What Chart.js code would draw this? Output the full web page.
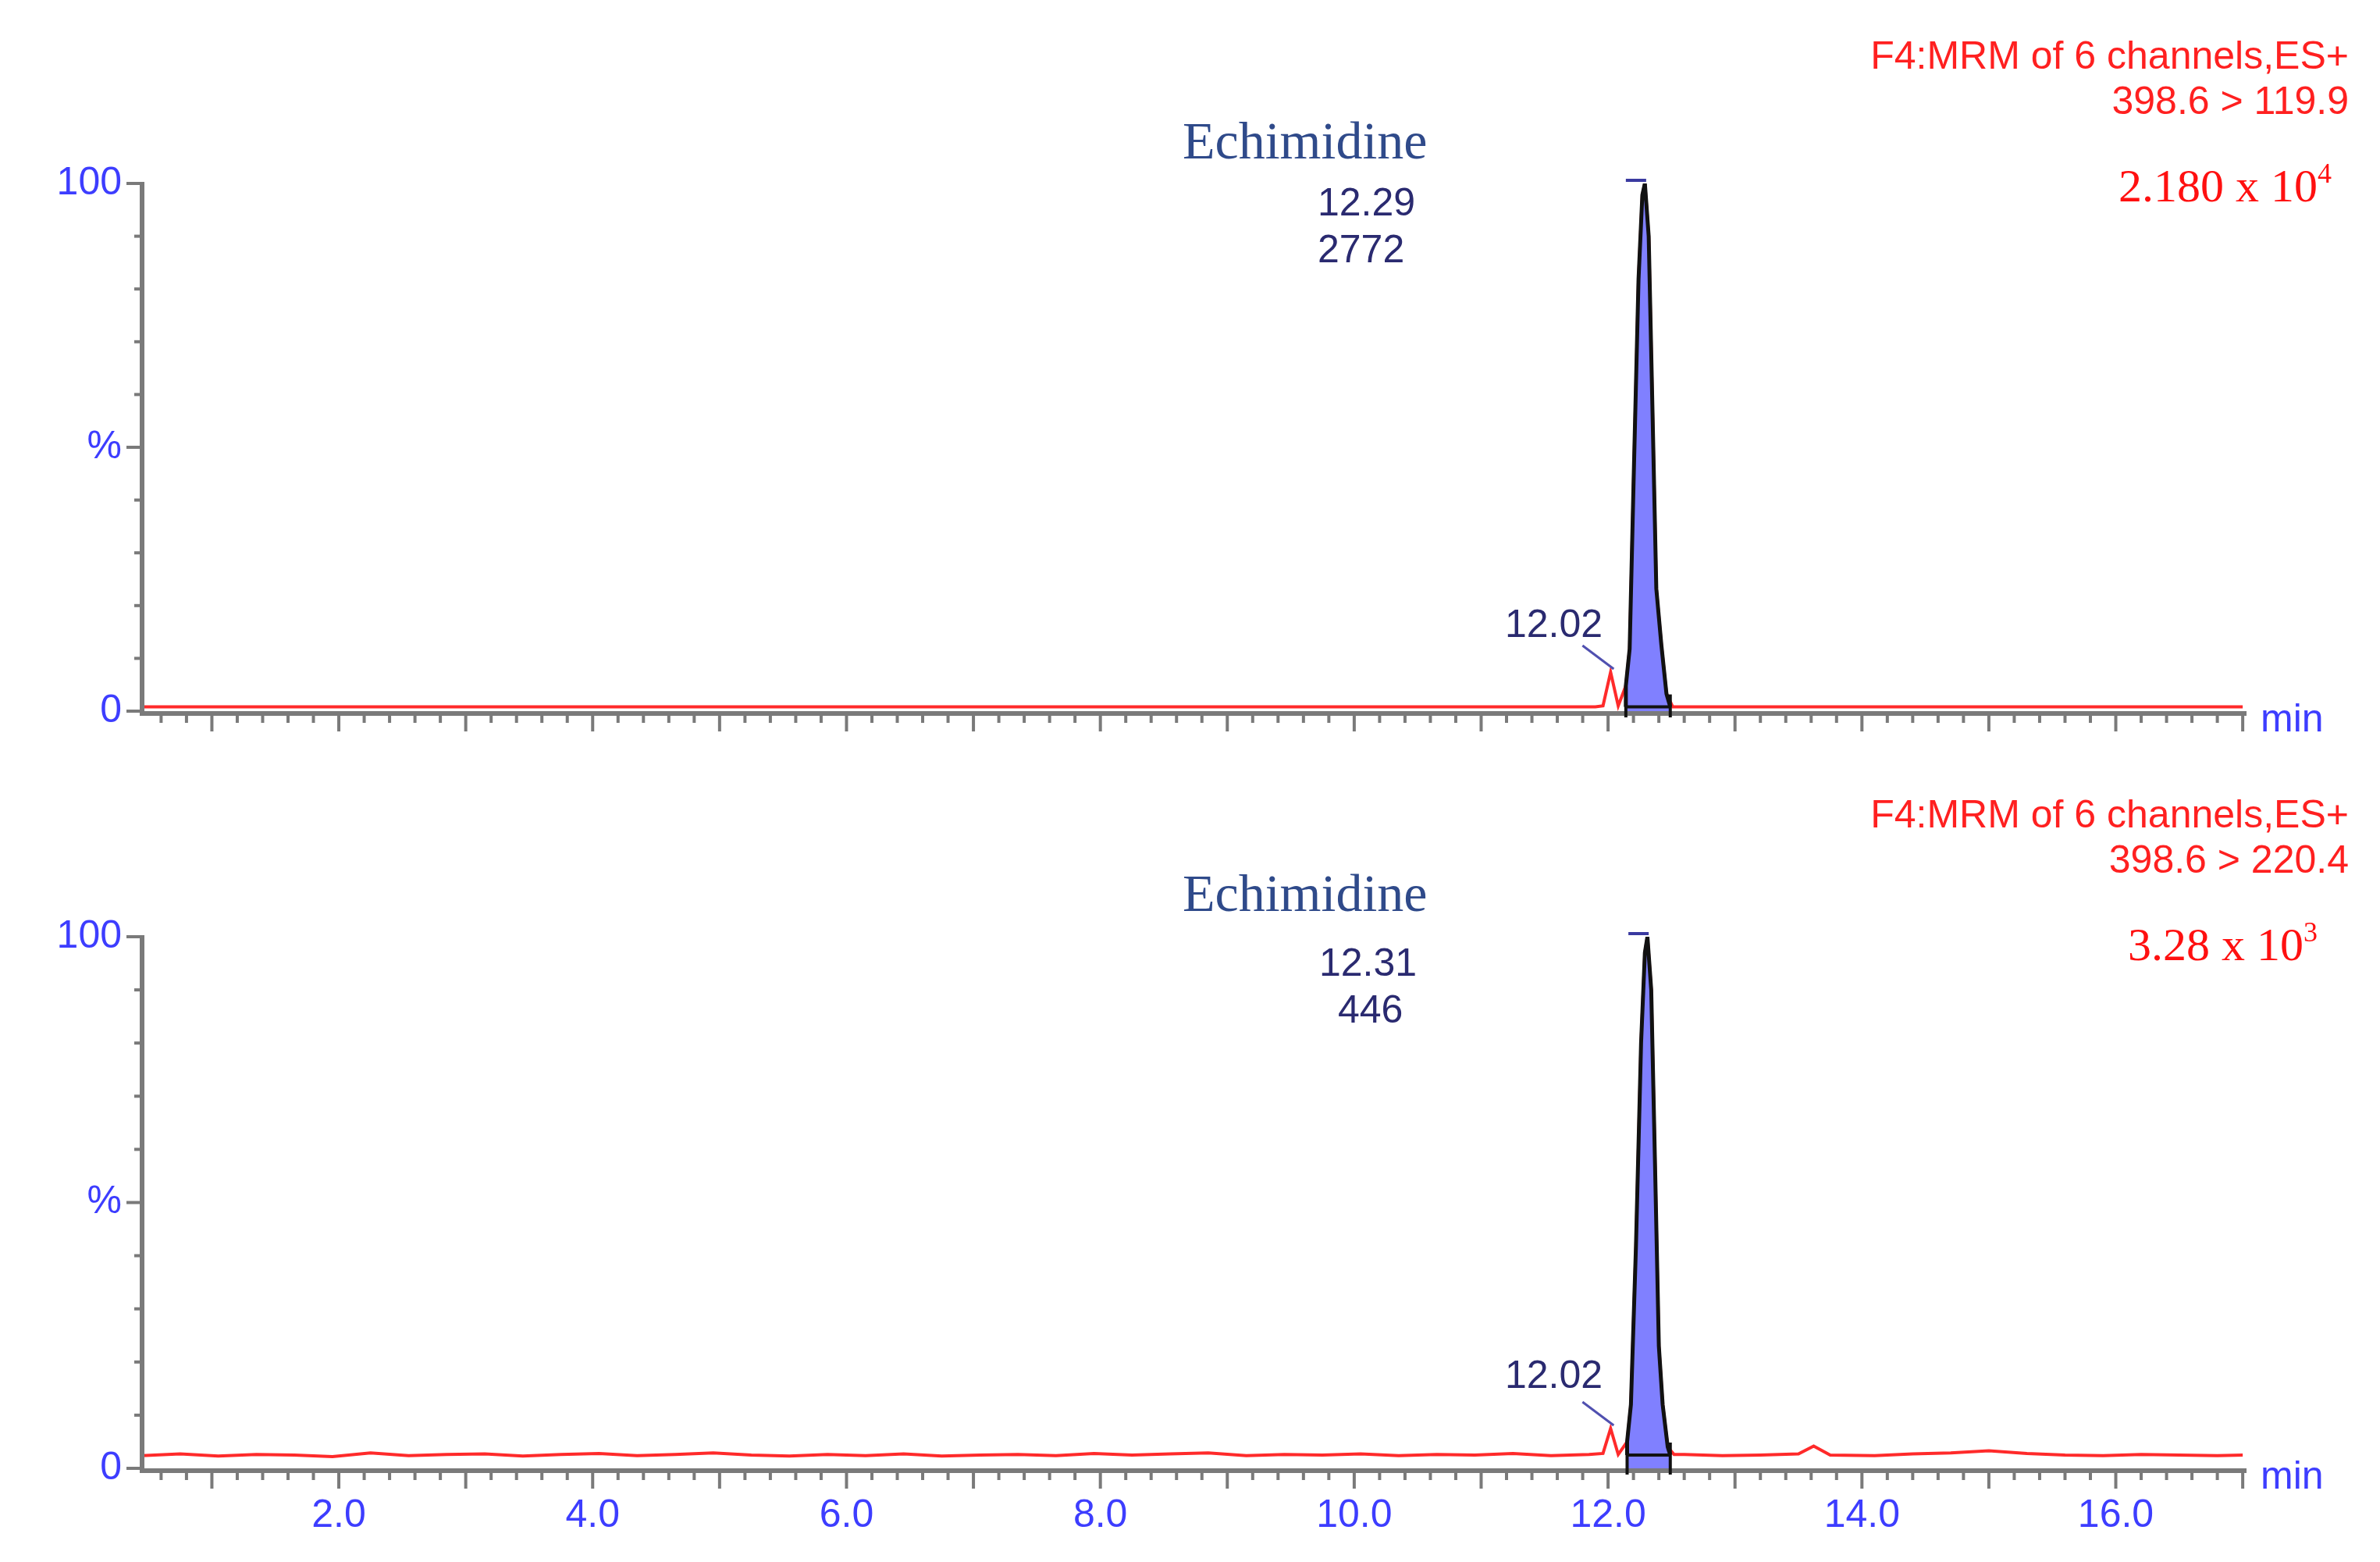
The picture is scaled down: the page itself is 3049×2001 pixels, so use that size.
<!DOCTYPE html>
<html><head><meta charset="utf-8">
<script src="https://cdn.jsdelivr.net/npm/chart.js@4"></script>
<style>
html,body{margin:0;padding:0;background:#fff;width:3049px;height:2001px;overflow:hidden;position:relative}
canvas{position:absolute;left:0}
.t{position:absolute;white-space:nowrap;line-height:1}
.hdr{font-family:"Liberation Sans",Arial,sans-serif;font-size:50px;color:#ff2020;text-align:right;right:40px}
.sci{font-family:"Liberation Serif","Times New Roman",serif;font-size:60px;color:#ff1010}
.sci sup{font-size:36px;vertical-align:top;position:relative;top:-4px}
.name{font-family:"Liberation Serif","Times New Roman",serif;font-size:68px;color:#2f4a8a}
.pk{font-family:"Liberation Sans",Arial,sans-serif;font-size:50px;color:#2a2a70;text-align:center}
</style></head><body>
<canvas id="c1" width="3049" height="1000" style="top:0;width:3049px;height:1000px"></canvas>
<canvas id="c2" width="3049" height="1001" style="top:1000px;width:3049px;height:1001px"></canvas>

<div class="t hdr" style="top:46px">F4:MRM of 6 channels,ES+</div>
<div class="t hdr" style="top:104px">398.6 &gt; 119.9</div>
<div class="t sci" style="top:208px;right:62px">2.180 x 10<sup>4</sup></div>
<div class="t name" style="top:146px;left:1515px">Echimidine</div>
<div class="t pk" style="top:234px;left:1688px">12.29</div>
<div class="t pk" style="top:294px;left:1688px">2772</div>
<div class="t pk" style="top:774px;left:1928px">12.02</div>

<div class="t hdr" style="top:1018px">F4:MRM of 6 channels,ES+</div>
<div class="t hdr" style="top:1076px">398.6 &gt; 220.4</div>
<div class="t sci" style="top:1180px;right:80px">3.28 x 10<sup>3</sup></div>
<div class="t name" style="top:1110px;left:1515px">Echimidine</div>
<div class="t pk" style="top:1208px;left:1690px">12.31</div>
<div class="t pk" style="top:1268px;left:1714px">446</div>
<div class="t pk" style="top:1736px;left:1928px">12.02</div>

<script>
// ---------- data ----------
const xMin = 0.45, xMax = 17.03;
const xTickLabels = ["2.0","4.0","6.0","8.0","10.0","12.0","14.0","16.0"];
const yTickLabels = ["0","%","100"];

// Top channel 398.6 > 119.9
const topTime = [0.45,2.0,4.0,6.0,8.0,10.0,11.0,11.9,11.96,12.02,12.08,12.14,12.17,12.20,12.24,12.27,12.29,12.32,12.35,12.38,12.42,12.46,12.51,13.0,14.0,15.0,16.0,17.0];
const topValue = [0.8,0.8,0.8,0.8,0.8,0.8,0.8,0.8,1.0,7.4,1.0,4.8,11.8,42.4,81.9,97.8,100,90,56.8,23.2,12.5,3.3,0.8,0.8,0.8,0.8,0.8,0.8];
const topPeakTime = [12.14,12.14,12.17,12.20,12.24,12.27,12.29,12.32,12.35,12.38,12.42,12.46,12.49];
const topPeakValue = [0.8,4.8,11.8,42.4,81.9,97.8,100,90,56.8,23.2,12.5,3.3,0.8];

// Bottom channel 398.6 > 220.4
const botTime = [0.45,0.75,1.05,1.35,1.65,1.95,2.25,2.55,2.85,3.15,3.45,3.75,4.05,4.35,4.65,4.95,5.25,5.55,5.85,6.15,6.45,6.75,7.05,7.35,7.65,7.95,8.25,8.55,8.85,9.15,9.45,9.75,10.05,10.35,10.65,10.95,11.25,11.55,11.85,
  11.96,12.02,12.08,12.15,12.18,12.22,12.26,12.29,12.31,12.34,12.37,12.40,12.43,12.47,12.52,
  12.6,12.9,13.2,13.5,13.62,13.75,14.1,14.4,14.7,15.0,15.3,15.6,15.9,16.2,16.5,16.8,17.0];
const botValue = [2.4,2.7,2.3,2.6,2.5,2.2,2.9,2.4,2.6,2.7,2.3,2.6,2.8,2.4,2.6,2.9,2.5,2.3,2.6,2.4,2.7,2.3,2.5,2.6,2.4,2.8,2.5,2.7,2.9,2.4,2.6,2.5,2.7,2.4,2.6,2.5,2.8,2.4,2.6,
  2.8,7.5,2.6,5.0,12.0,42.0,80.0,97.0,100,90,57.0,23.0,12.0,4.0,2.6,
  2.6,2.4,2.5,2.7,4.2,2.5,2.4,2.7,2.9,3.3,2.8,2.5,2.4,2.6,2.5,2.4,2.5];
const botPeakTime = [12.15,12.15,12.18,12.22,12.26,12.29,12.31,12.34,12.37,12.40,12.43,12.47,12.49];
const botPeakValue = [2.5,5.0,12.0,42.0,80.0,97.0,100,90,57.0,23.0,12.0,4.0,2.5];

// ---------- drawing ----------
const AX = '#7a7a7a', BLUE_TXT = '#3d3dff';
function pts(t, v){ return t.map((x,i)=>({x:x,y:v[i]})); }

function axesPlugin(showX, smallPeakT, smallPeakV, apexT, baseV, pkStart, pkEnd){
  return {id:'axes'+(showX?1:0), afterDatasetsDraw(chart){
    const c = chart.ctx, xs = chart.scales.x, ys = chart.scales.y, a = chart.chartArea;
    c.save();
    c.strokeStyle = AX; c.lineWidth = 6;
    c.beginPath(); c.moveTo(a.left, a.top-2); c.lineTo(a.left, a.bottom+3); c.lineTo(a.right, a.bottom+3); c.stroke();
    c.lineWidth = 4;
    for (let v=0; v<=100; v+=10){
      const y = ys.getPixelForValue(v), long = (v%50===0);
      c.beginPath(); c.moveTo(a.left-(long?20:10), y); c.lineTo(a.left, y); c.stroke();
    }
    c.fillStyle = BLUE_TXT; c.font = '50px "Liberation Sans", Arial, sans-serif';
    c.textAlign = 'right'; c.textBaseline = 'middle';
    c.fillText(yTickLabels[2], a.left-26, ys.getPixelForValue(100));
    c.fillText(yTickLabels[1], a.left-26, ys.getPixelForValue(50));
    c.fillText(yTickLabels[0], a.left-26, ys.getPixelForValue(0));
    for (let k=3; k<=85; k++){
      const v = k/5; if (v < xMin || v > xMax) continue;
      const x = xs.getPixelForValue(v), major = (k%5===0);
      c.beginPath(); c.moveTo(x, a.bottom+5); c.lineTo(x, a.bottom+(major?26:15)); c.stroke();
    }
    if (showX){
      c.textAlign='center'; c.textBaseline='top';
      xTickLabels.forEach(l=>c.fillText(l, xs.getPixelForValue(parseFloat(l)), a.bottom+36));
    }
    c.textAlign='left'; c.textBaseline='middle';
    c.fillText('min', a.right+18, a.bottom+12);
    c.strokeStyle='#111'; c.lineWidth=4;
    const x0 = xs.getPixelForValue(pkStart), x1 = xs.getPixelForValue(pkEnd), yb = ys.getPixelForValue(baseV);
    c.beginPath(); c.moveTo(x0, yb); c.lineTo(x1, yb); c.stroke();
    c.beginPath(); c.moveTo(x0, yb-8); c.lineTo(x0, a.bottom+8); c.stroke();
    c.beginPath(); c.moveTo(x1, yb-16); c.lineTo(x1, a.bottom+8); c.stroke();
    c.strokeStyle='#3a3aa0'; c.lineWidth=4;
    const yt = ys.getPixelForValue(100)-4;
    c.beginPath(); c.moveTo(xs.getPixelForValue(apexT-0.15), yt); c.lineTo(xs.getPixelForValue(apexT+0.01), yt); c.stroke();
    c.strokeStyle='#5050b0'; c.lineWidth=3;
    const sx = xs.getPixelForValue(smallPeakT), sy = ys.getPixelForValue(smallPeakV);
    c.beginPath(); c.moveTo(sx-36, sy-34); c.lineTo(sx+4, sy-4); c.stroke();
    c.restore();
  }};
}

function makeChart(id, tT, tV, pT, pV, pad, plugin){
  return new Chart(document.getElementById(id), {
    type:'line',
    data:{datasets:[
      {data:pts(tT,tV), borderColor:'#ff2a2a', borderWidth:4, pointRadius:0, fill:false, tension:0, order:2},
      {data:pts(pT,pV), borderColor:'#111', borderWidth:5, backgroundColor:'#8080ff', pointRadius:0, fill:'origin', tension:0, order:1}
    ]},
    options:{responsive:false, animation:false, devicePixelRatio:1,
      layout:{padding:pad},
      plugins:{legend:{display:false}, tooltip:{enabled:false}},
      scales:{x:{type:'linear', min:xMin, max:xMax, display:false},
              y:{min:0, max:100, display:false}}},
    plugins:[plugin]
  });
}

makeChart('c1', topTime, topValue, topPeakTime, topPeakValue,
  {left:182, right:171, top:235, bottom:89},
  axesPlugin(false, 12.02, 7.4, 12.29, 0.8, 12.14, 12.49));
makeChart('c2', botTime, botValue, botPeakTime, botPeakValue,
  {left:182, right:171, top:200, bottom:120},
  axesPlugin(true, 12.02, 7.5, 12.31, 2.5, 12.15, 12.49));
</script>
</body></html>
